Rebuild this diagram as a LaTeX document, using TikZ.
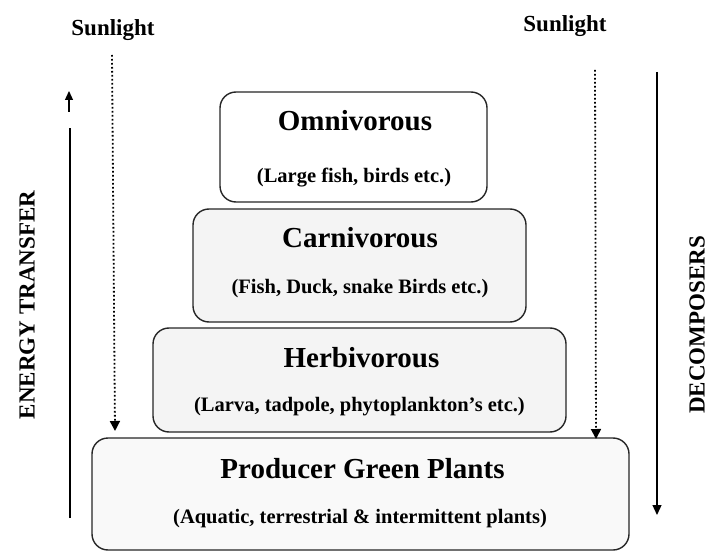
\documentclass[tikz,border=0pt]{standalone}
\usepackage{fontspec}
\setmainfont{Liberation Serif}
\usetikzlibrary{arrows.meta}
\begin{document}
\begin{tikzpicture}[x=1pt,y=-1pt,
  tier/.style={draw=black!85,line width=1.4pt,rounded corners=16pt,fill=gray!9,inner sep=0pt},
  title/.style={anchor=base,font=\bfseries\fontsize{29}{34}\selectfont,inner sep=0pt},
  sub/.style={anchor=base,font=\bfseries\fontsize{20.5}{24}\selectfont,inner sep=0pt},
  side/.style={font=\bfseries\fontsize{23}{27}\selectfont,inner sep=0pt},
  sun/.style={anchor=base,font=\bfseries\fontsize{23}{27}\selectfont,inner sep=0pt},
  ray/.style={line width=1.8pt,dash pattern=on 1.6pt off 2.4pt,-{Triangle[width=10pt,length=10pt]}},
  flow/.style={line width=1.3pt}]
\useasboundingbox (0,0) rectangle (709,553);
% tiers
\node[tier,fill=white,minimum width=267pt,minimum height=110pt] (omni) at (353.5,147) {};
\node[tier,minimum width=333pt,minimum height=113pt] (carn) at (359.5,265.5) {};
\node[tier,minimum width=413pt,minimum height=104pt] (herb) at (359.5,380) {};
\node[tier,fill=gray!5,minimum width=537pt,minimum height=112pt] (prod) at (360.5,494) {};
% texts
\node[title] (omnit) at (355,131) {Omnivorous};
\node[sub] (omnis) at (354,183) {(Large fish, birds etc.)};
\node[title] (carnt) at (360,248) {Carnivorous};
\node[sub] (carns) at (360,293) {(Fish, Duck, snake Birds etc.)};
\node[title] (herbt) at (361.5,367) {Herbivorous};
\node[sub] (herbs) at (359.5,411) {(Larva, tadpole, phytoplankton’s etc.)};
\node[title] (prodt) at (362.5,478) {Producer Green Plants};
\node[sub] (prods) at (360,523) {(Aquatic, terrestrial \& intermittent plants)};
% sunlight
\node[sun] (sunl) at (113,36) {Sunlight};
\node[sun] (sunr) at (565,32) {Sunlight};
\coordinate (sl1) at (112,55);
\coordinate (sl2) at (115,431);
\coordinate (sr1) at (595,70);
\coordinate (sr2) at (596,439);
\draw[ray] (sl1) -- (sl2);
\draw[ray] (sr1) -- (sr2);
% energy transfer
\node[side,rotate=90] (energy) at (27,305) {ENERGY TRANSFER};
\coordinate (e1) at (70,518);
\coordinate (e2) at (70,128);
\coordinate (e3) at (69,112);
\coordinate (e4) at (69,91);
\draw[flow] (e1) -- (e2);
\draw[flow,-{Triangle[width=8pt,length=9pt]}] (e3) -- (e4);
% decomposers
\node[side,rotate=90] (decomp) at (697,325) {DECOMPOSERS};
\coordinate (d1) at (657,72);
\coordinate (d2) at (657,515);
\draw[flow,-{Triangle[width=9pt,length=10pt]}] (d1) -- (d2);
\end{tikzpicture}
\end{document}
